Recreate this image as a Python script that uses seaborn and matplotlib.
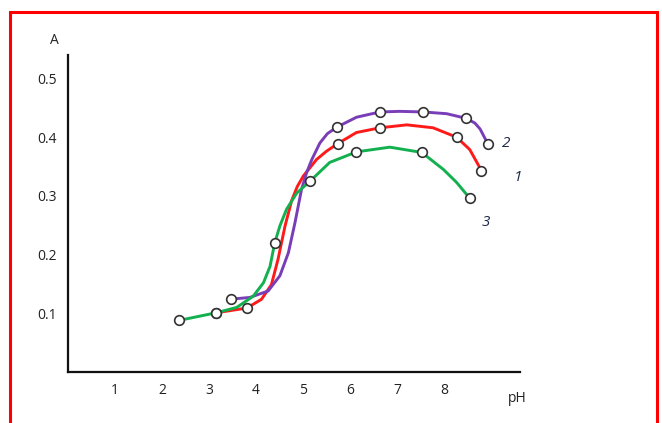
import matplotlib
matplotlib.use("Agg")
import matplotlib.pyplot as plt
import seaborn as sns
import pandas as pd
from matplotlib.patches import Rectangle

# traced curve paths (pH, A)
green_x = [2.37, 3.16, 3.59, 3.94, 4.16, 4.30, 4.40, 4.51, 4.65, 4.87, 5.15, 5.57, 6.14, 6.85, 7.53, 7.99, 8.27, 8.55]
green_y = [0.088, 0.101, 0.110, 0.129, 0.152, 0.180, 0.220, 0.249, 0.277, 0.305, 0.325, 0.357, 0.375, 0.383, 0.374, 0.345, 0.323, 0.296]
red_x = [3.16, 3.81, 4.12, 4.33, 4.47, 4.62, 4.76, 4.88, 5.01, 5.29, 5.50, 5.74, 6.14, 6.64, 7.21, 7.77, 8.27, 8.55, 8.80]
red_y = [0.101, 0.109, 0.124, 0.149, 0.192, 0.249, 0.292, 0.316, 0.334, 0.362, 0.376, 0.389, 0.408, 0.416, 0.421, 0.416, 0.400, 0.379, 0.343]
purple_x = [3.46, 3.87, 4.26, 4.51, 4.69, 4.83, 4.97, 5.08, 5.19, 5.36, 5.52, 5.72, 6.14, 6.64, 7.06, 7.56, 8.06, 8.48, 8.66, 8.77, 8.94]
purple_y = [0.124, 0.127, 0.138, 0.164, 0.203, 0.254, 0.311, 0.340, 0.362, 0.390, 0.406, 0.417, 0.434, 0.443, 0.444, 0.443, 0.440, 0.432, 0.424, 0.414, 0.388]

# measured points (open circles)
green_px = [2.37, 3.16, 4.40, 5.15, 6.14, 7.53, 8.55]
green_py = [0.088, 0.101, 0.220, 0.325, 0.375, 0.374, 0.296]
red_px = [3.16, 3.81, 5.74, 6.64, 8.27, 8.80]
red_py = [0.101, 0.109, 0.389, 0.416, 0.400, 0.343]
purple_px = [3.46, 5.72, 6.64, 7.56, 8.48, 8.94]
purple_py = [0.124, 0.417, 0.443, 0.443, 0.432, 0.388]

x_ticks = [1, 2, 3, 4, 5, 6, 7, 8]
y_ticks = [0.1, 0.2, 0.3, 0.4, 0.5]
y_labels = ["0.1", "0.2", "0.3", "0.4", "0.5"]

curves = [
    ("1", red_x, red_y, red_px, red_py, "#ff1a1a", (9.57, 0.331)),
    ("2", purple_x, purple_y, purple_px, purple_py, "#7a3db8", (9.32, 0.389)),
    ("3", green_x, green_y, green_px, green_py, "#12b04e", (8.89, 0.254)),
]

sns.set_style("white")
plt.rcParams["font.family"] = ["Open Sans", "DejaVu Sans"]

fig = plt.figure(figsize=(6.62, 4.23), dpi=100)
ax = fig.add_axes([68 / 662, 1 - 372 / 423, 452 / 662, 317 / 423])

for name, cx, cy, mx, my, col, lab in curves:
    line_df = pd.DataFrame({"pH": cx, "A": cy})
    sns.lineplot(data=line_df, x="pH", y="A", sort=False, estimator=None,
                 color=col, linewidth=2.1, ax=ax, zorder=2)
for name, cx, cy, mx, my, col, lab in curves:
    pt_df = pd.DataFrame({"pH": mx, "A": my})
    sns.scatterplot(data=pt_df, x="pH", y="A", s=48, color="white",
                    edgecolor="#333333", linewidth=1.2, ax=ax, zorder=3)
    ax.text(lab[0], lab[1], name, fontsize=11, style="italic",
            color="#1f2a4a", ha="center", va="center", clip_on=False)

ax.set_xlim(0, 9.62)
ax.set_ylim(0, 0.54)
ax.set_xticks(x_ticks)
ax.set_xticklabels([str(t) for t in x_ticks])
ax.set_yticks(y_ticks)
ax.set_yticklabels(y_labels)
ax.set_xlabel("")
ax.set_ylabel("")
for s in ["top", "right"]:
    ax.spines[s].set_visible(False)
for s in ["left", "bottom"]:
    ax.spines[s].set_linewidth(1.6)
    ax.spines[s].set_color("#111111")
ax.tick_params(direction="in", length=8, width=1.2, color="#333333",
               labelsize=10, labelcolor="#222222", pad=8)

ax.text(-0.28, 0.565, "A", fontsize=10, ha="center", va="center",
        color="#222222", clip_on=False)
ax.text(9.57, -0.045, "pH", fontsize=10, ha="center", va="center",
        color="#222222", clip_on=False)

fig.patches.append(Rectangle((10 / 662, -0.1), 647 / 662, 1.1 - 12 / 423,
                             transform=fig.transFigure, fill=False,
                             edgecolor="#ff0000", linewidth=2.2))

fig.savefig("out.png", dpi=100)
